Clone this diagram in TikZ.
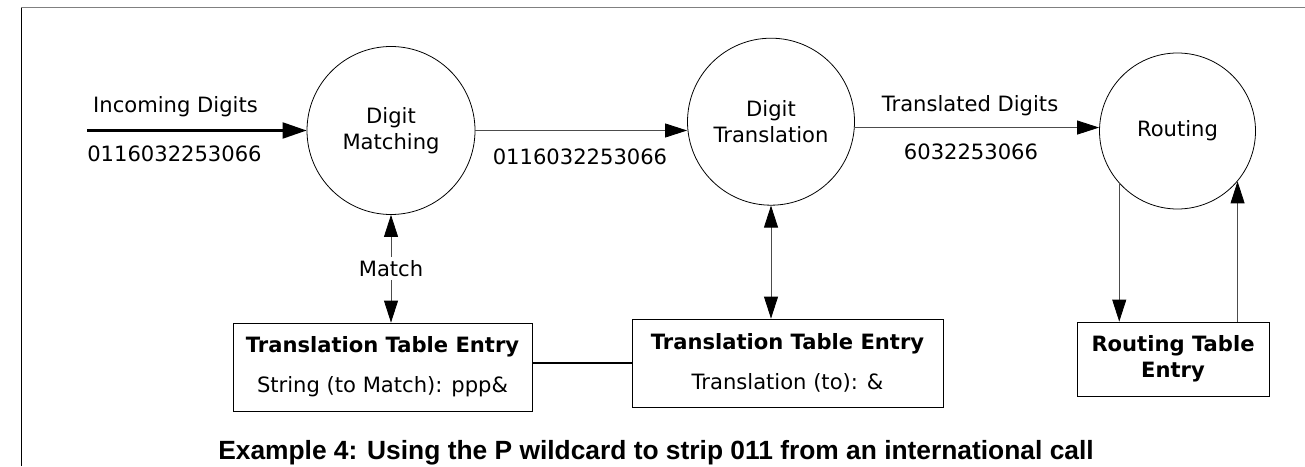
\documentclass[tikz,border=0pt]{standalone}
\usepackage{fontspec}
\setmainfont{DejaVu Sans}
\newfontfamily\capfont{Liberation Sans}
\usetikzlibrary{arrows.meta}
\begin{document}
\begin{tikzpicture}[line width=0.45pt, font=\fontsize{12}{14.7}\selectfont,
  proc/.style={circle, draw, inner sep=0pt, align=center},
  entry/.style={rectangle, draw, inner sep=0pt, align=center},
  flow/.style={draw=black!70, -{Triangle[length=4.4mm, width=2.8mm, color=black]}},
  both/.style={draw=black!70, {Triangle[length=4.4mm, width=2.8mm, color=black]}-{Triangle[length=4.4mm, width=2.8mm, color=black]}}]
\useasboundingbox (0,0) rectangle (26.1,9.32);
\draw (0.42,0) -- (0.42,9.17);
\draw [gray, line width=1.1pt] (0.42,9.17) -- (26.1,9.17);
\node [proc, minimum size=3.36cm] (dm) at (7.82,6.71) {Digit\\Matching};
\node [proc, minimum size=3.34cm] (dt) at (15.42,6.886) {Digit\\Translation};
\node [proc, minimum size=3.12cm] (rt) at (23.55,6.70) {Routing};
\node [entry, minimum width=5.98cm, minimum height=1.76cm] (tm) at (7.65,1.98) {\textbf{Translation Table Entry}\\[8pt]String (to Match): ppp\&};
\node [entry, minimum width=6.22cm, minimum height=1.76cm] (tt) at (15.75,2.06) {\textbf{Translation Table Entry}\\[8pt]Translation (to): \&};
\node [entry, minimum width=3.84cm, minimum height=1.48cm, font=\fontsize{12}{14.7}\selectfont\bfseries] (rte) at (23.46,2.14) {Routing Table\\Entry};
\coordinate (in) at (1.74,6.71);
\node (inlbl) at (3.51,7.18) {Incoming Digits};
\node (indig) at (3.49,6.24) {0116032253066};
\node (mdig) at (11.6,6.18) {0116032253066};
\node (tlbl) at (19.4,7.2) {Translated Digits};
\node (tdig) at (19.42,6.28) {6032253066};
% flows
\draw [line width=1.2pt, -{Triangle[length=4.8mm, width=3.2mm]}] (in) -- (dm.west);
\draw [flow] (dm.east) -- (dm.east -| dt.west);
\draw [flow] (dt.-4) -- (dt.-4 -| rt.west);
\draw [both] (dm.south) -- node [fill=white, inner sep=2pt] (mlbl) {Match} (dm.south |- tm.north);
\draw [both] (dt.south) -- (dt.south |- tt.north);
\draw [flow] (rt.222) -- (rt.222 |- rte.north);
\draw [flow] (rt.320 |- rte.north) -- (rt.320);
\draw [line width=1.1pt] (tm.east |- tt.west) -- (tt.west);
\node [anchor=base, font=\capfont\bfseries\fontsize{15}{18}\selectfont] (cap) at (13.12,0.13) {Example 4: Using the P wildcard to strip 011 from an international call};
\end{tikzpicture}
\end{document}
